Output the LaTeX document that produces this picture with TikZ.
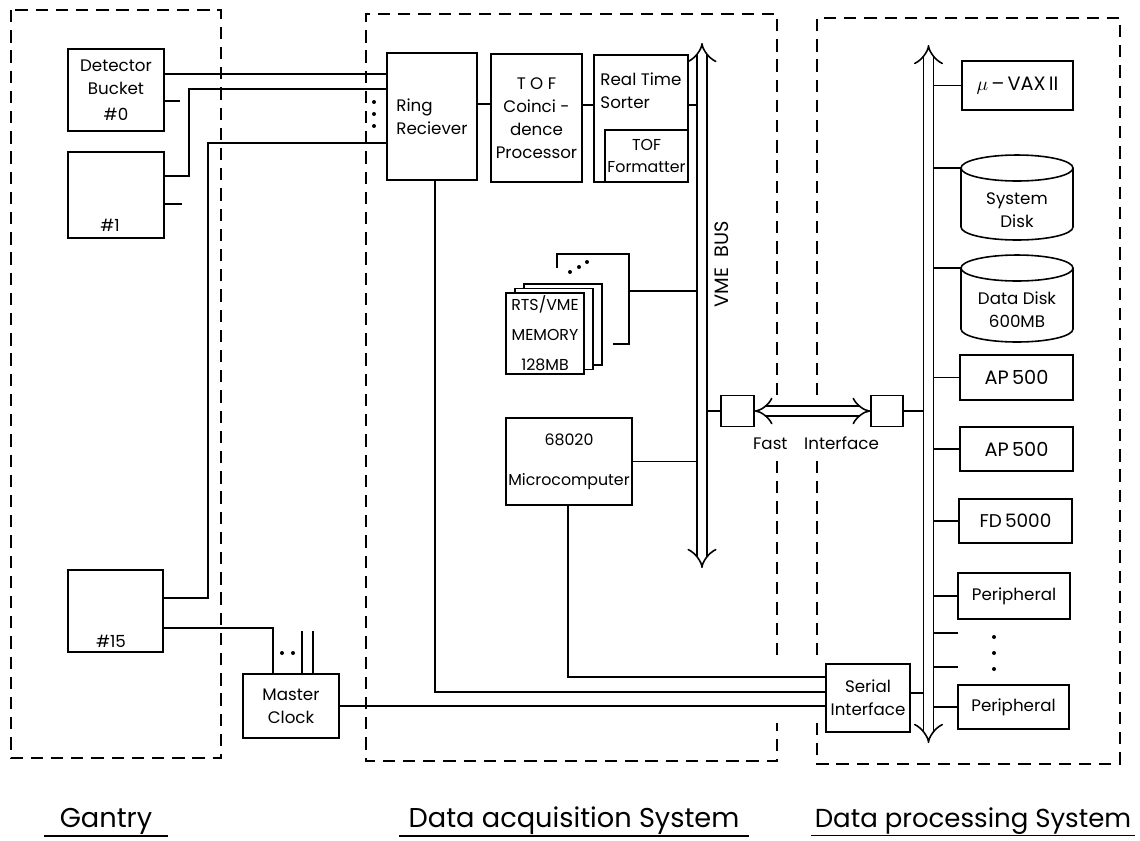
\documentclass[tikz,border=0pt]{standalone}
\usepackage{fontspec}
\setmainfont{Poppins}
\usetikzlibrary{arrows.meta}
\newcommand{\boxfont}{\fontsize{9.5}{13}\selectfont}
\newcommand{\titlefont}{\fontsize{15.5}{17}\selectfont}
\tikzset{
    blk/.style={draw, inner sep=0pt, align=center, font=\boxfont},
    sz/.style 2 args={minimum width=#1*0.02cm, minimum height=#2*0.02cm},
    txt/.style={inner sep=0pt, align=left, font=\boxfont},
    panel/.style={line width=0.75pt, dash pattern=on 7pt off 4.5pt},
    bus/.style={double, double distance=5pt, {Implies[scale=1.7]}-{Implies[scale=1.7]}},
    pnt/.style={circle, fill, inner sep=0pt, minimum size=4*0.02cm},
    title/.style={inner ysep=0.5pt, anchor=base, font=\titlefont}
}

\begin{document}
\begin{tikzpicture}[x=0.02cm, y=-0.02cm, line width=0.9pt]
    \useasboundingbox (0,0) rectangle (1140,840);

    % Gantry
    \draw[panel] (11,10) rectangle (221,758);
    \node[blk, sz={96}{82}] (b0) at (116,90) {Detector\\Bucket\\[2pt]\#0};
    \node[blk, sz={96}{86}] (b1) at (116,195) {};
    \node[txt] (b1T) at (110,225) {\#1};
    \node[blk, sz={95}{82}] (b15) at (115.5,611) {};
    \node[txt] (b15T) at (111,641) {\#15};
    \node[blk, sz={96}{64}] (clk) at (291,706) {Master\\Clock};

    % Data acquisition
    \draw[panel] (777,395) -- (777,14) -- (366,14) -- (366,761) -- (777,761) -- (777,723)
        (777,655) -- (777,460);
    \node[blk, sz={90}{127}, align=left] (ring) at (432,116.5) {Ring\\Reciever};
    \node[blk, sz={91}{128}] (tof) at (536.5,118) {T O F\\Coinci -\\dence\\Processor};
    \node[blk, sz={94}{127}] (rts) at (641,118.5) {};
    \node[txt] (rtsT) at (641,91) {Real Time\\Sorter};
    \node[blk, sz={83}{52}, font=\fontsize{9}{13}\selectfont] (fmt) at (646.5,156) {TOF\\Formatter};

    % VME bus
    \coordinate (vmeT) at (702,43);
    \coordinate (vmeB) at (702,568);
    \coordinate (vmeL) at (697,0);
    \coordinate (vmeR) at (707,0);
    \draw[bus] (vmeB) -- (vmeT);
    \node[font=\fontsize{11}{13}\selectfont, rotate=90] (vme) at (722,264) {VME\ \ BUS};

    % Memory stack
    \node[sz={70}{89}] (memB) at (593,299.5) {};
    \draw (memB.west |- 0,268) |- (memB.north east) |- (613,344);
    \foreach \x/\y [count=\i] in {570/272,579/267,587/262}
        \node[pnt] (md\i) at (\x,\y) {};
    \node[blk, fill=white, sz={78}{81}] (mem3) at (563,324.5) {};
    \node[blk, fill=white, sz={78}{81}] (mem2) at (554,329) {};
    \node[blk, fill=white, sz={78}{81}, font=\fontsize{9}{13}\selectfont] (mem) at (545,333.5) {RTS/VME\\[4pt]MEMORY\\[4pt]128MB};
    \draw (memB.east |- 0,291) -- (vmeL |- 0,291);

    \node[blk, sz={126}{87}, font=\fontsize{9}{13}\selectfont] (micro) at (569,461.5) {68020\\[10pt]Microcomputer};
    \draw (micro.east) -- (vmeL |- micro.east);

    % Fast interface
    \node[blk, sz={33}{31}] (fiL) at (737.5,411) {};
    \node[blk, sz={32}{31}] (fiR) at (887,411) {};
    \draw (vmeR |- fiL.west) -- (fiL.west);
    \draw[bus, double distance=4.5pt] (fiL.east) -- (fiR.west);
    \node[txt] (fast) at (816,443) {Fast\quad Interface};

    % Serial interface
    \node[blk, sz={84}{68}] (ser) at (868,698) {Serial\\Interface};
    \draw (ring.south -| 435,0) |- (ser.west |- 0,692);
    \draw (micro.south -| 568,0) |- (ser.west |- 0,677);
    \draw (clk.east) -- (ser.west |- clk.east);

    % Gantry connections
    \draw (b0.east |- 0,74) -- (ring.west |- 0,74);
    \draw (b0.east |- 0,101) -- ++(15,0);
    \draw (b1.east |- 0,176) -- ++(24,0) |- (ring.west |- 0,89);
    \draw (b1.east |- 0,204) -- ++(17,0);
    \draw (b15.east |- 0,598) -- ++(44,0) |- (ring.west |- 0,143);
    \draw (b15.east |- 0,628) -| (273,0 |- clk.north);
    \foreach \x in {302,313}
        \draw (\x,0 |- clk.north) -- ++(0,-42);
    \foreach \x [count=\i] in {282,293}
        \node[pnt] (cd\i) at (\x,653) {};
    \foreach \y [count=\i] in {102,114,126}
        \node[pnt] (rd\i) at (374,\y) {};
    \draw (ring.east |- 0,104) -- (tof.west |- 0,104);
    \draw (tof.east |- 0,105) -- (rts.west |- 0,105);
    \draw (rts.east |- 0,105) -- (vmeL |- 0,105);

    % Data processing
    \draw[panel] (817,395) -- (817,18) -- (1120,18) -- (1120,764) -- (817,764) -- (817,723)
        (817,655) -- (817,460);
    \coordinate (busT) at (928.5,45);
    \coordinate (busB) at (928.5,743);
    \coordinate (busL) at (923.5,0);
    \coordinate (busR) at (933.5,0);
    \draw[bus] (busB) -- (busT);
    \draw (fiR.east) -- (busL |- fiR.east);
    \draw (ser.east |- 0,693) -- (busL |- 0,693);

    \node[blk, sz={111}{49}, font=\fontsize{11}{13}\selectfont] (vax) at (1017.5,85.5) {$\mu$\,--\,VAX\,II};
    % disks
    \coordinate (sysdW) at (961,168);
    \draw (sysdW) -- (961,227) arc[start angle=180, end angle=0, x radius=56, y radius=13] -- (1073,168);
    \draw (1017,168) ellipse [x radius=56, y radius=13];
    \node[txt, align=center] (sysd) at (1017,210) {System\\Disk};
    \coordinate (datdW) at (961,268);
    \draw (datdW) -- (961,329) arc[start angle=180, end angle=0, x radius=56, y radius=13] -- (1073,268);
    \draw (1017,268) ellipse [x radius=56, y radius=13];
    \node[txt, align=center] (datd) at (1017,310) {Data Disk\\600MB};
    \draw (busR |- sysdW) -- (sysdW);
    \draw (busR |- datdW) -- (datdW);

    \node[blk, sz={113}{45}, font=\fontsize{11}{13}\selectfont] (ap1) at (1016.5,377.5) {AP\,500};
    \node[blk, sz={113}{44}, font=\fontsize{11}{13}\selectfont] (ap2) at (1016.5,449) {AP\,500};
    \node[blk, sz={113}{44}, font=\fontsize{10.5}{13}\selectfont] (fd) at (1015.5,521) {FD\,5000};
    \node[blk, sz={112}{46}] (per1) at (1014,596) {Peripheral};
    \node[blk, sz={111}{44}] (per2) at (1013.5,707) {Peripheral};
    \foreach \n in {vax,ap1,ap2,fd,per1,per2}
        \draw (busR |- \n.west) -- (\n.west);
    \foreach \y in {633,667}
        \draw (busR |- 0,\y) -- ++(24,0);
    \foreach \y [count=\i] in {637,653,669}
        \node[pnt] (pd\i) at (994,\y) {};

    % Titles
    \node[title, inner xsep=8.5pt] (gan) at (106,827) {Gantry};
    \draw (gan.south west) -- (gan.south east);
    \node[title, inner xsep=5pt] (acq) at (574,827) {Data acquisition System};
    \draw (acq.south west) -- (acq.south east);
    \node[title, inner xsep=1.5pt, font=\fontsize{14.8}{17}\selectfont] (proc) at (973,827) {Data processing System};
    \draw (proc.south west) -- (proc.south east);
\end{tikzpicture}
\end{document}
